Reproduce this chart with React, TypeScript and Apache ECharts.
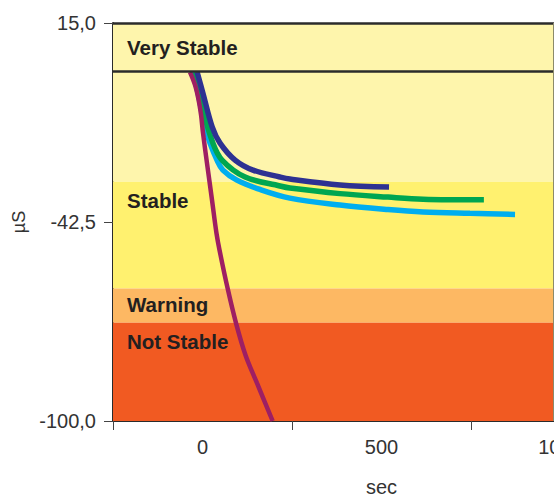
import React, { useEffect, useRef } from "react";
import * as echarts from "echarts";

// ---- data (sec, µS) ----
const purpleCurve: [number, number][] = [
  [-35, 0.8], [-21, -2.9], [-11, -7.2], [-4, -11.6], [1.4, -16.8], [14, -26.6],
  [26.5, -36.1], [39, -45.7], [47.5, -50.6], [70, -61.6], [93.6, -71.7], [120, -80.9],
  [152, -89.0], [196, -100],
];
const blueCurve: [number, number][] = [
  [-15, 0.8], [1, -5.2], [27, -15.0], [49, -19.7], [91, -24.6], [141, -27.5],
  [216, -29.5], [244, -30.1], [384, -31.8], [521, -32.4],
];
const greenCurve: [number, number][] = [
  [-21, 0.8], [1.4, -10.1], [29, -19.7], [54.5, -24.6], [119, -29.5], [216.5, -32.1],
  [244, -32.7], [384, -34.3], [518, -35.3], [616, -35.9], [786, -36.1],
];
const cyanCurve: [number, number][] = [
  [-26.5, 0.8], [-12.6, -5.2], [7, -15.0], [21, -19.7], [40.5, -24.6], [57, -27.5],
  [96, -30.4], [160.6, -33.1], [244, -35.6], [384, -37.6], [518, -38.9], [616, -39.6],
  [747, -40.0], [873, -40.3],
];

const secTicks = [-250, 250, 750, 1250];
const secLabels = [0, 500, 1000];
const usMin = -100;
const usMax = 15;
const usInterval = 57.5;

const bandNames = ["Very Stable", "", "Stable", "Warning", "Not Stable"];
const bandTop = [15, 1.1, -30.9, -61.7, -71.6];
const bandBottom = [1.1, -30.9, -61.7, -71.6, -100];
const headerLineValue = 1.1;
const rightEdgeSec = 979;

// ---- styles ----
const bandColors = ["#FEF5AC", "#FEF5AC", "#FFF16F", "#FDB863", "#F15A22"];
const bandLabelOffsetY = [24, 0, 19, 16, 19];
const FONT = "'Liberation Sans', Arial, sans-serif";

export default function App() {
  const ref = useRef<HTMLDivElement>(null);
  useEffect(() => {
    if (!ref.current) return;
    const chart = echarts.init(ref.current, null, { renderer: "svg" });
    const markAreaData = bandNames.map((name, i) => [
      {
        yAxis: bandTop[i],
        name,
        itemStyle: { color: bandColors[i], opacity: 1 },
        label: {
          show: name !== "",
          position: [14, bandLabelOffsetY[i]],
          align: "left",
          verticalAlign: "middle",
          fontFamily: FONT,
          fontWeight: "bold",
          fontSize: 20.5,
          color: "#231F20",
        },
      },
      { yAxis: bandBottom[i] },
    ]);
    const lineSeries = (name: string, data: [number, number][], color: string, width: number) => ({
      type: "line",
      name,
      data,
      showSymbol: false,
      smooth: 0.35,
      clip: true,
      lineStyle: { color, width, cap: "butt" },
      z: 3,
    });
    const option: any = {
      animation: false,
      grid: {
        left: 113, top: 23, right: 50, bottom: 76,
        containLabel: false, outerBoundsMode: "none",
      },
      xAxis: {
        type: "value",
        min: -250,
        max: 1250,
        interval: 250,
        name: "sec",
        nameLocation: "middle",
        nameGap: 56,
        nameTextStyle: { fontSize: 20, color: "#333", fontFamily: FONT },
        axisLine: { show: true, onZero: false, lineStyle: { color: "#2B2B2B", width: 2 } },
        axisTick: { show: true, customValues: secTicks, length: 9, lineStyle: { color: "#444", width: 1 } },
        axisLabel: {
          customValues: secLabels,
          margin: 16,
          fontSize: 20,
          color: "#333",
          fontFamily: FONT,
          formatter: (v: number) => String(v),
        },
        splitLine: { show: false },
      },
      yAxis: {
        type: "value",
        min: usMin,
        max: usMax,
        interval: usInterval,
        name: "µS",
        nameLocation: "middle",
        nameGap: 81,
        nameTextStyle: { fontSize: 18, color: "#333", fontFamily: FONT },
        axisLine: { show: true, onZero: false, lineStyle: { color: "#2B2B2B", width: 2 } },
        axisTick: { show: true, length: 9, lineStyle: { color: "#444", width: 1 } },
        axisLabel: {
          margin: 17,
          fontSize: 20,
          color: "#333",
          fontFamily: FONT,
          formatter: (v: number) => v.toFixed(1).replace(".", ","),
        },
        splitLine: { show: false },
      },
      series: [
        {
          ...lineSeries("cyan", cyanCurve, "#00AEEF", 5.5),
          markArea: { silent: true, z: 1, data: markAreaData },
          markLine: {
            silent: true,
            symbol: ["none", "none"],
            label: { show: false },
            z: 5,
            data: [
              { yAxis: usMax, lineStyle: { color: "#2B2B2B", width: 2.5, type: "solid" } },
              { yAxis: headerLineValue, lineStyle: { color: "#2B2B2B", width: 2.5, type: "solid" } },
              { xAxis: rightEdgeSec, lineStyle: { color: "#8C8A6A", width: 1, type: "solid" } },
            ],
          },
        },
        lineSeries("green", greenCurve, "#00A651", 5.5),
        lineSeries("blue", blueCurve, "#2E3192", 5.5),
        lineSeries("purple", purpleCurve, "#9E1F63", 4.5),
      ],
    };
    chart.setOption(option);
    return () => chart.dispose();
  }, []);
  return (
    <div
      ref={ref}
      style={{ position: "fixed", left: 0, top: 0, width: 700, height: 497, background: "#fff" }}
    />
  );
}
